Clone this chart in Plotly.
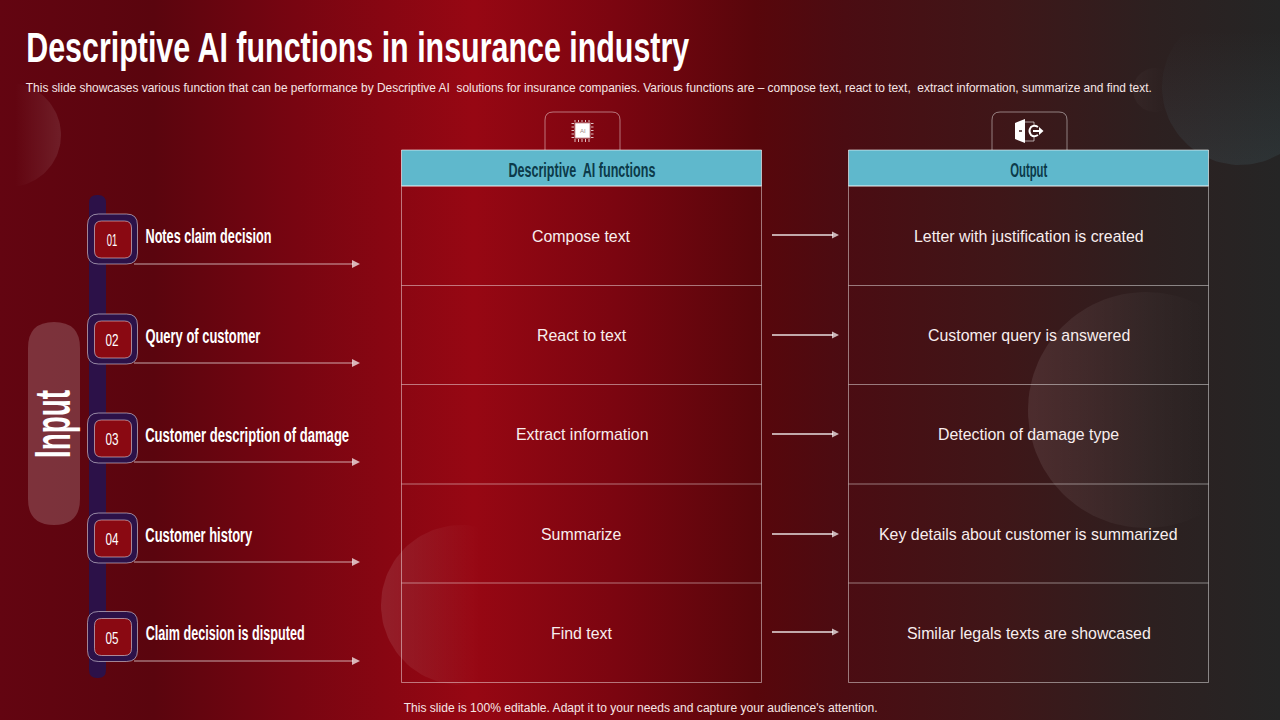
import json
import numpy as np
import plotly.graph_objects as go

# slide text
title = "Descriptive AI functions in insurance industry"
subtitle = ("This slide showcases various function that can be performance by Descriptive AI  solutions "
            "for insurance companies. Various functions are – compose text, react to text,  extract "
            "information, summarize and find text.")
footer = "This slide is 100% editable. Adapt it to your needs and capture your audience's attention."
side_label = "Input"
numbers = ["01", "02", "03", "04", "05"]
inputs = ["Notes claim decision", "Query of customer", "Customer description of damage",
          "Customer history", "Claim decision is disputed"]
functions = ["Compose text", "React to text", "Extract information", "Summarize", "Find text"]
outputs = ["Letter with justification is created", "Customer query is answered",
           "Detection of damage type", "Key details about customer is summarized",
           "Similar legals texts are showcased"]
headers = ["Descriptive  AI functions", "Output"]

# layout, in slide pixels
row_edges = [186, 285.5, 384.5, 484, 583, 682.5]
table_lefts = [401.5, 848.5]
table_width = 360
badge_tops = [214, 314, 413, 513, 611.5]
input_arrow_y = [264, 363, 462, 562, 661]
output_arrow_y = [235, 335, 434, 534, 632]
label_y = [236, 336, 435, 535, 633]
cell_y = [236, 335, 434, 534, 633]
label_widths = [126, 115, 204, 107, 159]
number_widths = [10.5, 13, 13, 13, 13]
header_widths = [147, 37]

CONDENSED = "Liberation Sans"  # squeezed to width below, the slide's condensed face is not installed
SANS = "Liberation Sans"
EDGE = "rgba(255,255,255,0.45)"
ARROW = "rgba(255,255,255,0.65)"

bg_stops = [[0, "#630511"], [0.12, "#5a050e"], [0.23, "#780511"], [0.37, "#970713"],
            [0.48, "#7b0510"], [0.59, "#58060b"], [0.66, "#4b0c12"], [0.78, "#3f1618"],
            [0.90, "#2d2020"], [1, "#252525"]]

squeeze = {}


def rounded(x0, y0, x1, y1, r):
    return (f"M{x0+r},{y0} L{x1-r},{y0} Q{x1},{y0} {x1},{y0+r} L{x1},{y1-r} Q{x1},{y1} {x1-r},{y1} "
            f"L{x0+r},{y1} Q{x0},{y1} {x0},{y1-r} L{x0},{y0+r} Q{x0},{y0} {x0+r},{y0} Z")


def circle_trace(cx, cy, r, c0, c1, start, stop, kind="horizontal"):
    a = np.linspace(0, 2 * np.pi, 121)
    return go.Scatter(x=cx + r * np.cos(a), y=cy + r * np.sin(a), mode="lines", line_width=0,
                      fill="toself", hoverinfo="skip",
                      fillgradient=dict(type=kind, start=start, stop=stop,
                                        colorscale=[[0, c0], [1, c1]]))


fig = go.Figure()
fig.add_trace(go.Scatter(x=[0, 1280, 1280, 0, 0], y=[0, 0, 720, 720, 0], mode="lines", line_width=0,
                         fill="toself", hoverinfo="skip",
                         fillgradient=dict(type="horizontal", start=0, stop=1280, colorscale=bg_stops)))
fig.add_trace(circle_trace(9, 135, 52, "rgba(255,255,255,0)", "rgba(255,255,255,0.10)", 15, 61))
fig.add_trace(circle_trace(461, 605, 80, "rgba(255,255,255,0.10)", "rgba(255,255,255,0)", 381, 480))
fig.add_trace(circle_trace(1146, 410, 118, "rgba(255,255,255,0.09)", "rgba(255,255,255,0)", 1028, 1205))
fig.add_trace(circle_trace(1240, 87, 78, "rgba(110,180,200,0)", "rgba(110,180,200,0.10)", 30, 165, "vertical"))
fig.add_trace(circle_trace(1155, 90, 22, "rgba(255,255,255,0.03)", "rgba(255,255,255,0)", 1133, 1165))

shapes = []
notes = []


def text(x, y, s, size, font=SANS, color="#ffffff", angle=0, bold=False, width=None):
    notes.append(dict(x=x, y=y, text=s, showarrow=False, xanchor="center", yanchor="middle",
                      textangle=angle, borderpad=0,
                      font=dict(family=font, size=size, color=color, weight=700 if bold else 400)))
    if width:
        squeeze[s] = width


def line(x0, y0, x1, y1, color=EDGE, width=1):
    shapes.append(dict(type="line", x0=x0, y0=y0, x1=x1, y1=y1, line=dict(color=color, width=width)))


def path(d, fill="rgba(0,0,0,0)", color=None, width=1):
    shapes.append(dict(type="path", path=d, fillcolor=fill,
                       line=dict(color=color or "rgba(0,0,0,0)", width=width if color else 0)))


def arrow(x0, x1, y, width, head):
    line(x0, y, x1 - head + 1, y, ARROW, width)
    path(f"M{x1-head},{y-head/2} L{x1},{y} L{x1-head},{y+head/2} Z", fill="rgba(255,255,255,0.7)")


text(26 + 663 / 2, 46.5, title, 43, CONDENSED, bold=True, width=663)
text(26 + 1126 / 2, 87.5, subtitle, 12, color="#f6e6e6", width=1126)
text(403 + 474 / 2, 708, footer, 12, color="#f6e6e6", width=474)

# input column
path(rounded(28, 322, 80, 525, 26), fill="rgba(255,255,255,0.18)")
text(53, 424, side_label, 50, CONDENSED, angle=-90, bold=True, width=68)
path(rounded(89, 195, 106, 678, 8), fill="#2c1148")
for i, num in enumerate(numbers):
    top = badge_tops[i]
    path(rounded(87.5, top, 137.5, top + 50, 11), fill="#2c1148", color="rgba(255,255,255,0.5)")
    path(rounded(94.5, top + 7, 131.5, top + 44, 7), fill="#8a0912", color="rgba(255,255,255,0.5)")
    text(112, top + 26.5, num, 16, CONDENSED, width=number_widths[i])
    text(145 + label_widths[i] / 2, label_y[i], inputs[i], 20, CONDENSED, bold=True, width=label_widths[i])
    arrow(134, 360, input_arrow_y[i], 1, 8)

# the two tables
for t, left in enumerate(table_lefts):
    right = left + table_width
    mid = left + table_width / 2
    tab = left + 143.5
    path(f"M{tab},150 L{tab},120 Q{tab},112 {tab+8},112 L{tab+67},112 Q{tab+75},112 {tab+75},120 L{tab+75},150",
         color="rgba(255,255,255,0.45)")
    shapes.append(dict(type="rect", x0=left, y0=150, x1=right, y1=186, fillcolor="#5fb8cc",
                       line=dict(color="rgba(255,255,255,0.6)", width=1)))
    text(mid, 169.5, headers[t], 20, CONDENSED, color="#0c3a49", bold=True, width=header_widths[t])
    shapes.append(dict(type="rect", x0=left, y0=row_edges[0], x1=right, y1=row_edges[-1],
                       line=dict(color=EDGE, width=1)))
    for edge in row_edges[1:-1]:
        line(left, edge, right, edge)
    cells = functions if t == 0 else outputs
    for i, s in enumerate(cells):
        text(mid, cell_y[i], s, 15.9, color="#f8eeee")

for y in output_arrow_y:
    arrow(772, 839, y, 2, 7)

# chip icon
shapes.append(dict(type="rect", x0=575.5, y0=123.5, x1=589.5, y1=137.5, fillcolor="#ffffff",
                   line=dict(color="rgba(255,255,255,0.6)", width=2)))
for p in [575, 578.5, 582, 585.5, 589]:
    line(p, 120, p, 122, "rgba(255,255,255,0.75)")
    line(p, 139, p, 142, "rgba(255,255,255,0.75)")
for p in [123.5, 127, 130.5, 134, 137.5]:
    line(571.5, p, 574, p, "rgba(255,255,255,0.75)")
    line(591, p, 593.5, p, "rgba(255,255,255,0.75)")
text(582.5, 131, "AI", 6, color="#a08a8a")

# door icon
path("M1015,123 L1025,119 L1025,143 L1015,139 Z", fill="#ffffff")
line(1019, 131, 1022, 131, "#3a1a1a", 1.5)
path("M1025,122 L1034,122 L1034,126 M1034,136 L1034,141 L1025,141", color="rgba(255,255,255,0.6)")
path("M1038,127 Q1034,124.5 1031,127 Q1028,131 1031,135 Q1034,137.5 1038,135", color="#ffffff", width=2)
line(1033, 131, 1040, 131, "#ffffff", 2)
path("M1039,127 L1043.5,131 L1039,135 Z", fill="#ffffff")

fig.update_layout(
    width=1280, height=720, margin=dict(l=0, r=0, t=0, b=0), showlegend=False,
    paper_bgcolor="#252525", plot_bgcolor="#252525",
    xaxis=dict(range=[0, 1280], visible=False, fixedrange=True),
    yaxis=dict(range=[720, 0], visible=False, fixedrange=True),
    shapes=shapes, annotations=notes,
)

post = """
document.body.style.margin = '0';
document.body.style.overflow = 'hidden';
var widths = %s;
document.querySelectorAll('.annotation-text').forEach(function (t) {
  var w = widths[t.textContent];
  if (w) {
    t.setAttribute('textLength', w);
    t.setAttribute('lengthAdjust', 'spacingAndGlyphs');
  }
});
""" % json.dumps(squeeze)
fig.write_html("out.html", post_script=post, config={"displayModeBar": False})
